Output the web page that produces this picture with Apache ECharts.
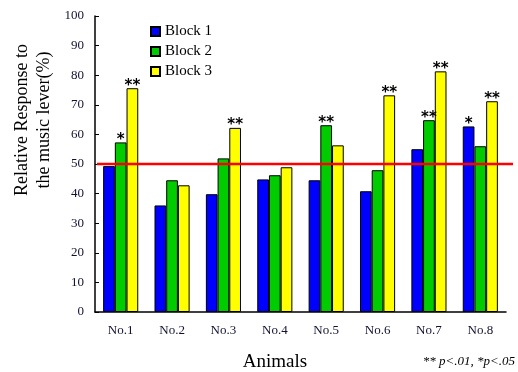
<!DOCTYPE html>
<html>
<head>
<meta charset="utf-8">
<script src="https://cdn.jsdelivr.net/npm/echarts@6/dist/echarts.min.js"></script>
<style>
  html, body { margin: 0; padding: 0; background: #fff; }
  #chart { width: 518px; height: 372px; }
</style>
</head>
<body>
<div id="chart"></div>
<script>
// Relative response per animal, three blocks
const animals = ['No.1', 'No.2', 'No.3', 'No.4', 'No.5', 'No.6', 'No.7', 'No.8'];
const block1 = [49.3, 36.0, 39.8, 44.8, 44.5, 40.8, 55.0, 62.7];
const block2 = [57.3, 44.5, 51.9, 46.2, 63.1, 47.9, 64.8, 56.0];
const block3 = [75.6, 42.8, 62.2, 48.9, 56.3, 73.2, 81.3, 71.2];
// significance marks drawn above bars
const sig1 = ['', '', '', '', '', '', '', '*'];
const sig2 = ['*', '', '', '', '**', '', '**', ''];
const sig3 = ['**', '', '**', '', '', '**', '**', '**'];
// chance level reference
const chanceLevel = 50;
const yTicks = [0, 10, 20, 30, 40, 50, 60, 70, 80, 90, 100];

const serif = '"Liberation Serif", "Times New Roman", serif';
const chart = echarts.init(document.getElementById('chart'), null, { renderer: 'canvas' });

function barSeries(name, values, marks, color) {
  return {
    name: name,
    type: 'bar',
    xAxisIndex: 0,
    yAxisIndex: 0,
    barWidth: 11.7,
    barGap: '0%',
    itemStyle: { color: color, borderColor: '#000', borderWidth: 1 },
    data: values.map((v, i) => ({
      value: v,
      label: {
        show: marks[i] !== '',
        formatter: marks[i]
      }
    })),
    label: {
      position: 'top',
      distance: -5,
      color: '#000',
      fontFamily: '"DejaVu Sans", sans-serif',
      fontWeight: 'bold',
      fontSize: 15
    },
    animation: false
  };
}

chart.setOption({
  backgroundColor: '#fff',
  animation: false,
  grid: [
    { left: 95, right: 12, top: 16, bottom: 60 },
    { left: 97, right: 5, top: 16, bottom: 60 }
  ],
  legend: {
    orient: 'vertical',
    left: 145,
    top: 19,
    itemWidth: 9,
    itemHeight: 9,
    itemGap: 5,
    icon: 'rect',
    textStyle: { fontFamily: serif, fontSize: 15, color: '#000' },
    data: ['Block 1', 'Block 2', 'Block 3']
  },
  xAxis: [
    {
      type: 'category',
      gridIndex: 0,
      data: animals,
      axisLine: { lineStyle: { color: '#000', width: 1.5 } },
      axisTick: { inside: true, length: 5, lineStyle: { color: '#000' } },
      axisLabel: { fontFamily: serif, fontSize: 13, color: '#111133', margin: 12 }
    },
    { type: 'value', gridIndex: 1, min: 0, max: 1, show: false }
  ],
  yAxis: [
    {
      type: 'value',
      gridIndex: 0,
      min: yTicks[0],
      max: yTicks[yTicks.length - 1],
      interval: 10,
      splitLine: { show: false },
      axisLine: { show: true, lineStyle: { color: '#000', width: 1.5 } },
      axisTick: { show: true, inside: true, length: 4, lineStyle: { color: '#000' } },
      axisLabel: { fontFamily: serif, fontSize: 13, color: '#111133', margin: 11 }
    },
    { type: 'value', gridIndex: 1, min: 0, max: 100, show: false }
  ],
  series: [
    barSeries('Block 1', block1, sig1, '#0000ff'),
    barSeries('Block 2', block2, sig2, '#00cc00'),
    barSeries('Block 3', block3, sig3, '#ffff00'),
    {
      type: 'line',
      xAxisIndex: 1,
      yAxisIndex: 1,
      data: [[0, chanceLevel], [1, chanceLevel]],
      symbol: 'none',
      lineStyle: { color: '#ff0000', width: 2.5 },
      z: 10,
      silent: true,
      animation: false
    }
  ],
  graphic: [
    {
      type: 'text',
      x: 33,
      y: 120,
      rotation: Math.PI / 2,
      style: {
        text: 'Relative Response to\nthe music lever(%)',
        fontFamily: serif,
        fontSize: 18,
        lineHeight: 22,
        fill: '#000',
        align: 'center',
        verticalAlign: 'middle'
      }
    },
    {
      type: 'text',
      x: 275,
      y: 362,
      style: {
        text: 'Animals',
        fontFamily: serif,
        fontSize: 19,
        fill: '#000',
        align: 'center',
        verticalAlign: 'middle'
      }
    },
    {
      type: 'text',
      x: 515,
      y: 362,
      style: {
        text: '** p<.01, *p<.05',
        fontFamily: serif,
        fontStyle: 'italic',
        fontSize: 13,
        fill: '#000',
        align: 'right',
        verticalAlign: 'middle'
      }
    }
  ]
});
</script>
</body>
</html>
